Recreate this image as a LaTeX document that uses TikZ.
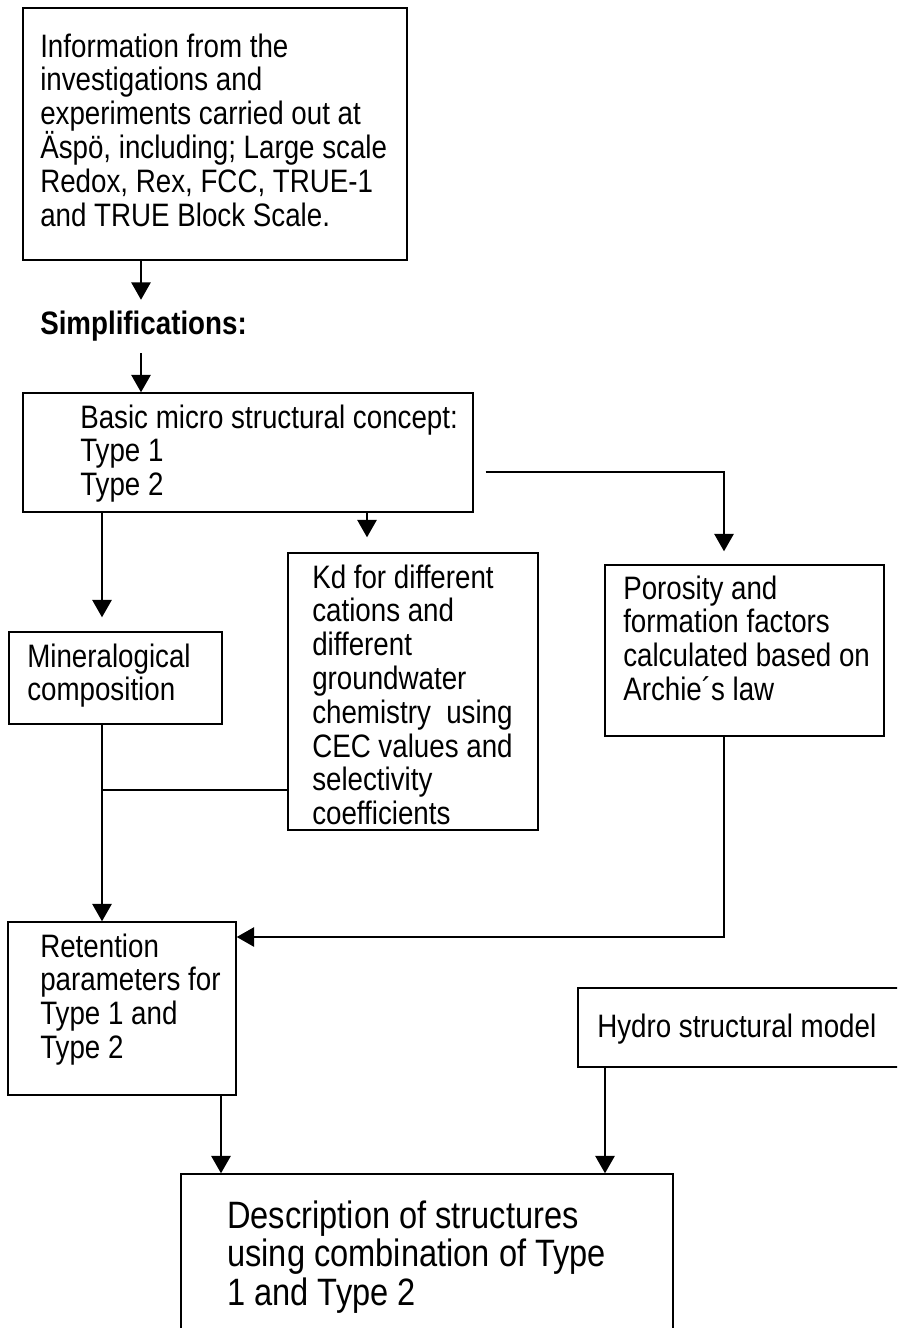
\documentclass[tikz,border=0pt]{standalone}
\usepackage{fontspec}
\usepackage{graphicx}
\setmainfont{Liberation Sans}
\usetikzlibrary{arrows.meta,fit}

% text of the boxes, a little taller than wide as in the scan
\newcommand{\talltext}[1]{\scalebox{1}[1.17]{\parbox[t]{400pt}{\raggedright\lineskiplimit=-20pt #1}}}

\begin{document}
\begin{tikzpicture}[x=0.75pt,y=-0.75pt,
    box/.style={draw, line width=1.1pt, inner sep=0pt},
    txt/.style={anchor=base west, inner sep=0pt,
                font=\fontsize{20.8pt}{21.67pt}\selectfont},
    line/.style={line width=1.1pt},
    arr/.style={line width=1.1pt, -{Triangle[width=14.5pt,length=13pt]}}]
                    % Page frame
                    \useasboundingbox (0,0) rectangle (897,1328);%
                    \clip (0,0) rectangle (897,1328);%

                    % Columns and bends of the connectors
                    \coordinate (colA) at (141,0);%
                    \coordinate (colK) at (367,0);%
                    \coordinate (colR) at (221,0);%
                    \coordinate (colH) at (605,0);%
                    \coordinate (turnP) at (724,472);%
                    \coordinate (turnR) at (724,937);%
                    \coordinate (joinM) at (102,790);%

                    % Box with the information from the investigations
                    \node[box, fit={(23,8) (407,260)}] (info) {};%
                    \node[txt] (infotext) at (40,57) {\talltext{Information from the\\investigations and\\experiments carried out at\\Äspö, including; Large scale\\Redox, Rex, FCC, TRUE-1\\and TRUE Block Scale.}};%

                    % Heading Simplifications
                    \node[anchor=base west, inner sep=0pt, text height=25.5pt, text depth=14.25pt,
                          font=\bfseries\fontsize{20.8pt}{21.67pt}\selectfont] (simp) at (40,334) {\scalebox{1}[1.17]{Simplifications:}};%

                    % Box with the basic concept
                    \node[box, fit={(23,393) (473,512)}] (basic) {};%
                    \node[txt] (basictext) at (80,428) {\talltext{Basic micro structural concept:\\Type 1\\Type 2}};%

                    % Box with the mineralogical composition
                    \node[box, fit={(9,632) (222,724)}] (mineral) {};%
                    \node[txt] (mineraltext) at (27,667) {\talltext{Mineralogical\\composition}};%

                    % Box with the Kd values
                    \node[box, fit={(288,553) (538,830)}] (kd) {};%
                    \node[txt] (kdtext) at (312,588) {\talltext{Kd for different\\cations and\\different\\groundwater\\chemistry\ \ using\\CEC values and\\selectivity\\coefficients}};%

                    % Box with porosity and formation factors
                    \node[box, fit={(605,565) (884,736)}] (poros) {};%
                    \node[txt] (porostext) at (623,599) {\talltext{Porosity and\\formation factors\\calculated based on\\Archie´s law}};%

                    % Box with the retention parameters
                    \node[box, fit={(8,922) (236,1095)}] (reten) {};%
                    \node[txt] (retentext) at (40,957) {\talltext{Retention\\parameters for\\Type 1 and\\Type 2}};%

                    % Box with the hydro structural model
                    \node[box, fit={(578,988) (905,1067)}] (hydro) {};%
                    \node[txt] (hydrotext) at (597,1037) {\talltext{Hydro structural model}};%

                    % Box with the description of structures
                    \node[box, fit={(181,1174) (673,1345)}] (descr) {};%
                    \node[txt, font=\fontsize{24.45pt}{24.7pt}\selectfont] (descrtext) at (227,1228) {\talltext{Description of structures\\using combination of Type\\1 and Type 2}};%

                    % Drawing the connectors
                    \draw[arr] (info.south -| colA) -- (simp.north -| colA);%
                    \draw[arr] (simp.south -| colA) -- (basic.north -| colA);%
                    \draw[arr, shorten >=10.5pt] (basic.south -| joinM) -- (mineral.north -| joinM);%
                    \draw[arr, shorten >=11.25pt] (basic.south -| colK) -- (kd.north -| colK);%
                    \draw[arr, shorten <=9pt, shorten >=9.75pt] (basic.east |- turnP) -- (turnP) -- (poros.north -| turnP);%
                    \draw[arr] (mineral.south -| joinM) -- (reten.north -| joinM);%
                    \draw[line] (kd.west |- joinM) -- (joinM);%
                    \draw[arr] (poros.south -| turnR) -- (turnR) -- (reten.east |- turnR);%
                    \draw[arr] (reten.south -| colR) -- (descr.north -| colR);%
                    \draw[arr] (hydro.south -| colH) -- (descr.north -| colH);%
\end{tikzpicture}
\end{document}
